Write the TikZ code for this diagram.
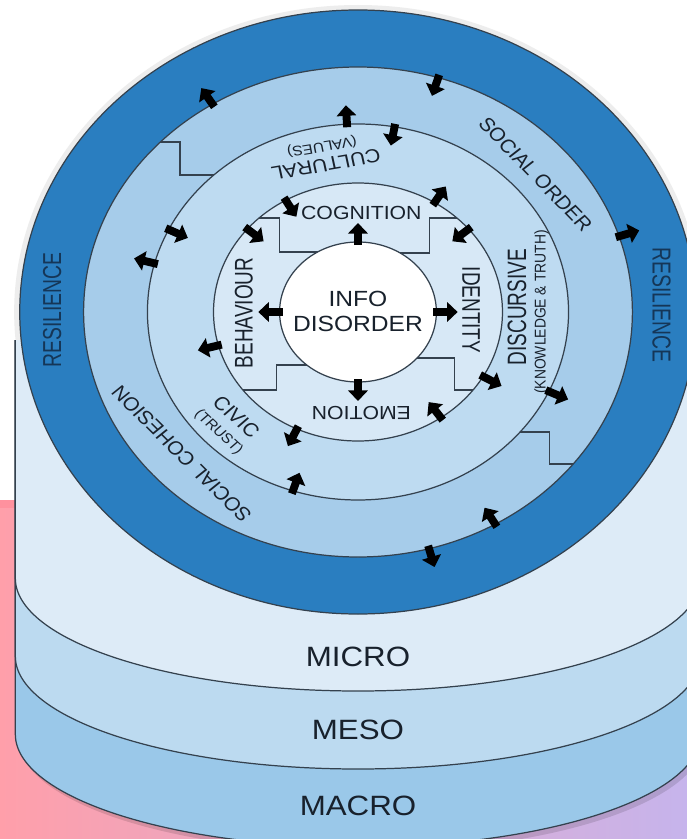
\documentclass[tikz,border=0pt]{standalone}
\usepackage{fontspec}
\setmainfont{Liberation Sans}
\usetikzlibrary{arrows.meta}
\definecolor{darkring}{HTML}{2A7EC0}
\definecolor{socialring}{HTML}{A6CCEA}
\definecolor{culturering}{HTML}{BEDBF1}
\definecolor{cognitionring}{HTML}{D7E8F6}
\definecolor{microband}{HTML}{DDEBF7}
\definecolor{mesoband}{HTML}{BCDAF0}
\definecolor{macroband}{HTML}{9AC8E9}
\definecolor{edgegray}{HTML}{34414E}
\definecolor{labelink}{HTML}{18212C}
\definecolor{resink}{HTML}{153657}
\definecolor{bgpink}{HTML}{FF9FAA}
\definecolor{bgrose}{HTML}{FF919E}
\definecolor{bglilac}{HTML}{C6B4EC}
\tikzset{
  ringline/.style={draw=edgegray, line width=0.7pt},
  blockarrow/.style={line width=4.5pt, -{Triangle[width=11pt,length=6pt]}},
  ringtext/.style={text=labelink, transform shape, inner sep=0pt, font=\fontsize{10.8}{12}\selectfont},
  smalltext/.style={ringtext, font=\fontsize{7.9}{9}\selectfont},
  bandtext/.style={ringtext, font=\fontsize{15.9}{18}\selectfont},
  restext/.style={ringtext, text=resink, font=\fontsize{11}{12}\selectfont},
}
\newcommand{\cylband}[2]
{   \filldraw[fill=#1, ringline] (-306,-28) -- (-306,#2) arc (180:360:306 and 113) -- (306,-28);
}
\newcommand{\outarrow}[2]
{   \draw[blockarrow] (#1:{#2-3}) -- (#1:{#2+19});
}
\newcommand{\inarrow}[2]
{   \draw[blockarrow] (#1:{#2+3}) -- (#1:{#2-19});
}
\begin{document}
\begin{tikzpicture}[x=0.02cm, y=0.02cm, xscale=1.12]
 \useasboundingbox (-319.64,-527) rectangle (293.75,312);
 \fill[white] (-320,-527) rectangle (294,312);
 \shade[left color=bgpink, middle color=bgpink!80!bglilac, right color=bglilac] (-320,-527) rectangle (294,-188);
 \fill[bgrose] (-320,-188) rectangle (294,-196);
 \fill[black!7] (0,0) circle (307);

 \begin{scope}[shift={(3,-5)}]
   \fill[black, opacity=0.12] (-306,-28) -- (-306,-422) arc (180:360:306 and 113) -- (306,-28) -- cycle;
 \end{scope}
 \cylband{macroband}{-422}
 \cylband{mesoband}{-344}
 \cylband{microband}{-266}
   \draw (0,-345) node[bandtext] (micro) {MICRO};
   \draw (0,-418) node[bandtext] (meso) {MESO};
   \draw (0,-494) node[bandtext] (macro) {MACRO};

 \filldraw[fill=darkring, ringline] (0,0) circle (302);
 \filldraw[fill=socialring, ringline] (0,0) circle (245);
 \begin{scope}
   \clip (0,0) circle (245);
   \draw[ringline] (-250,170) -- (-159,170) -- (-159,137) -- (-100,137);
   \draw[ringline] (140,-120) -- (171,-120) -- (171,-152) -- (260,-152);
 \end{scope}
 \filldraw[fill=culturering, ringline] (0,0) circle (188);
 \filldraw[fill=cognitionring, ringline] (0,0) circle (129);
 \begin{scope}
   \clip (0,0) circle (129);
   \draw[ringline] (-100,94) -- (-70,94) -- (-70,60) -- (-20,60);
   \draw[ringline] (20,59) -- (64,59) -- (64,94) -- (100,94);
   \draw[ringline] (-20,-53) -- (-73,-53) -- (-73,-78) -- (-110,-78);
   \draw[ringline] (20,-46) -- (86,-46) -- (86,-78) -- (140,-78);
 \end{scope}
 \filldraw[fill=white, ringline] (0,0) circle (70);

   \draw (-273,2) node[restext, rotate=90, yscale=1.2] (resleft) {RESILIENCE};
   \draw (271,7) node[restext, rotate=-90, yscale=1.2] (resright) {RESILIENCE};
   \draw (41:210) node[ringtext, rotate=-49] (socialorder) {SOCIAL ORDER};
   \draw (222:212) node[ringtext, rotate=132] (socialcohesion) {SOCIAL COHESION};
   \draw (101:150) node[ringtext, rotate=191] (cultural) {CULTURAL};
   \draw (101:169) node[smalltext, rotate=190] (values) {(VALUES)};
   \draw (2:142) node[ringtext, rotate=90, yscale=1.25] (discursive) {DISCURSIVE};
   \draw (0:164) node[smalltext, rotate=90] (knowledge) {(KNOWLEDGE \& TRUTH)};
   \draw (224:151) node[ringtext, rotate=-46] (civic) {CIVIC};
   \draw (224:173) node[smalltext, rotate=-46] (trust) {(TRUST)};
   \draw (3,99) node[ringtext] (cognition) {COGNITION};
   \draw (3,-101) node[ringtext, rotate=180] (emotion) {EMOTION};
   \draw (-102,-1) node[ringtext, rotate=90, yscale=1.2] (behaviour) {BEHAVIOUR};
   \draw (101,2) node[ringtext, rotate=-90, yscale=1.2] (identity) {IDENTITY};
   \draw (0,1) node[ringtext, align=center, font=\fontsize{12.5}{14.2}\selectfont] (infodisorder) {INFO\\DISORDER};

 \outarrow{122}{245} \inarrow{73}{245} \outarrow{18}{245} \outarrow{-75}{245} \inarrow{-60}{245}
 \outarrow{93}{188} \inarrow{80}{188} \inarrow{154}{188} \outarrow{165}{188} \outarrow{-25}{188} \inarrow{-108}{188}
 \outarrow{58}{129} \inarrow{120}{129} \inarrow{140}{129} \inarrow{40}{129}
 \outarrow{195}{129} \outarrow{-30}{129} \inarrow{-55}{129} \outarrow{-115}{129}
 \outarrow{90}{70} \outarrow{180}{70} \outarrow{0}{70} \outarrow{270}{70}

\end{tikzpicture}
\end{document}
